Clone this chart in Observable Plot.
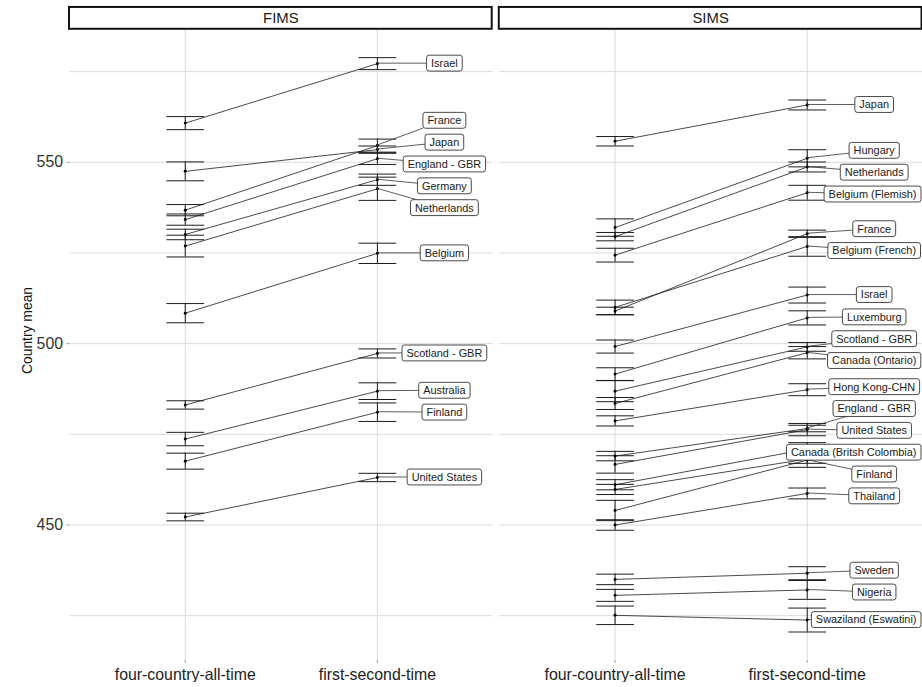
<!DOCTYPE html>
<html><head><meta charset="utf-8">
<script src="https://cdn.jsdelivr.net/npm/d3@7"></script>
<script src="https://cdn.jsdelivr.net/npm/@observablehq/plot@0.6"></script>
<style>
html,body{margin:0;padding:0;background:#fff;overflow:hidden;}
#chart{width:922px;height:687px;overflow:hidden;}
#chart svg{font-family:"Liberation Sans",Arial,sans-serif;}
</style></head><body><div id="chart"></div>
<script>
const studies = ["FIMS", "SIMS"];
const times = ["four-country-all-time", "first-second-time"];

const fimsCountries = ["Israel","Japan","France","England - GBR","Germany","Netherlands","Belgium","Scotland - GBR","Australia","Finland","United States"];
const fimsMeanA = [560.8, 547.5, 536.8, 534.2, 530.1, 526.9, 508.4, 483.1, 473.7, 467.6, 452.2];
const fimsSeA   = [1.8, 2.6, 1.55, 1.55, 1.45, 3.0, 2.65, 1.15, 1.85, 2.2, 1.05];
const fimsMeanB = [577.2, 553.5, 554.6, 551.0, 545.2, 542.7, 524.9, 497.3, 486.9, 481.1, 463.1];
const fimsSeB   = [1.65, 1.0, 1.8, 1.6, 1.55, 3.2, 2.8, 1.25, 2.3, 2.55, 1.15];

const simsCountries = ["Japan","Hungary","Netherlands","Belgium (Flemish)","Belgium (French)","France","Israel","Luxemburg","Scotland - GBR","Canada (Ontario)","Hong Kong-CHN","England - GBR","United States","Canada (Britsh Colombia)","New Zealand","Finland","Thailand","Sweden","Nigeria","Swaziland (Eswatini)"];
const simsMeanA = [555.8, 532.0, 529.5, 524.4, 510.0, 509.0, 499.2, 491.6, 486.9, 483.5, 478.7, 469.0, 466.7, 461.1, 459.8, 454.0, 450.0, 435.0, 430.6, 425.1];
const simsSeA   = [1.3, 2.4, 1.15, 1.9, 2.0, 1.05, 1.8, 1.75, 2.9, 1.65, 1.4, 1.3, 2.4, 1.4, 1.4, 2.8, 1.45, 1.45, 1.65, 2.55];
const simsMeanB = [565.8, 551.1, 548.7, 541.6, 526.8, 530.3, 513.4, 507.1, 499.1, 497.5, 487.3, 476.6, 476.3, 470.9, 468.2, 467.9, 458.7, 436.7, 432.1, 423.8];
const simsSeB   = [1.37, 2.36, 1.37, 2.05, 2.7, 1.0, 2.2, 1.95, 1.2, 1.7, 1.65, 0.9, 1.7, 1.8, 1.2, 2.0, 1.5, 1.8, 2.6, 3.3];
// ggrepel dropped this label in the original (too many overlaps)
const unlabelled = ["New Zealand"];

const yTicks = [450, 500, 550];
const yGrid = [425, 450, 475, 500, 525, 550, 575];

function build(study, countries, mA, sA, mB, sB) {
  const rows = [];
  countries.forEach((c, i) => {
    rows.push({study, country: c, time: times[0], mean: mA[i], lo: mA[i] - sA[i], hi: mA[i] + sA[i]});
    rows.push({study, country: c, time: times[1], mean: mB[i], lo: mB[i] - sB[i], hi: mB[i] + sB[i]});
  });
  return rows;
}
const rows = build("FIMS", fimsCountries, fimsMeanA, fimsSeA, fimsMeanB, fimsSeB)
  .concat(build("SIMS", simsCountries, simsMeanA, simsSeA, simsMeanB, simsSeB));
const labelRows = rows.filter(d => d.time === times[1] && !unlabelled.includes(d.country));

const capSymbol = {draw(ctx, size) { const r = Math.sqrt(size / Math.PI); ctx.moveTo(-r, 0); ctx.lineTo(r, 0); }};

const FONT = "11px 'Liberation Sans', Arial, sans-serif";
const measureCtx = document.createElement("canvas").getContext("2d");
measureCtx.font = FONT;

function repelLabels(index, scales, values, dim) {
  const X = values.x, Y = values.y, T = values.text;
  const H = 16, GAP = 22, DX = 68;
  const items = Array.from(index, i => ({px: X[i], py: Y[i], text: T[i], w: measureCtx.measureText(T[i]).width + 9}));
  items.sort((a, b) => a.py - b.py);
  let clusters = items.map(d => ({items: [d]}));
  const lay = c => { c.top = d3.mean(c.items, d => d.py) - (c.items.length - 1) * GAP / 2; };
  clusters.forEach(lay);
  let changed = true;
  while (changed) {
    changed = false;
    for (let k = 0; k < clusters.length - 1; k++) {
      const a = clusters[k], b = clusters[k + 1];
      if (b.top - (a.top + (a.items.length - 1) * GAP) < GAP) {
        a.items = a.items.concat(b.items); lay(a); clusters.splice(k + 1, 1); changed = true; break;
      }
    }
  }
  clusters.forEach(c => c.items.forEach((d, j) => { d.ly = c.top + j * GAP; }));
  const right = dim.width - dim.marginRight - 1;
  const g = d3.create("svg:g");
  for (const d of items) {
    let lx = d.px + DX;
    if (lx + d.w / 2 > right) lx = right - d.w / 2;
    d.lx = lx;
    const hw = d.w / 2, hh = H / 2;
    const vx = d.px - lx, vy = d.py - d.ly;
    const s = Math.max(Math.abs(vx) / hw, Math.abs(vy) / hh);
    if (s > 1) {
      g.append("line").attr("x1", d.px).attr("y1", d.py)
        .attr("x2", lx + vx / s).attr("y2", d.ly + vy / s)
        .attr("stroke", "#333").attr("stroke-width", 0.8);
    }
  }
  for (const d of items) {
    g.append("rect").attr("x", d.lx - d.w / 2).attr("y", d.ly - H / 2)
      .attr("width", d.w).attr("height", H).attr("rx", 2.5)
      .attr("fill", "#fff").attr("stroke", "#333").attr("stroke-width", 0.9);
    g.append("text").attr("x", d.lx).attr("y", d.ly).attr("dy", "0.36em")
      .attr("text-anchor", "middle").attr("fill", "#1a1a1a")
      .style("font", FONT).text(d.text);
  }
  return g.node();
}

function strip(index, scales, values, dim) {
  const g = d3.create("svg:g");
  const x0 = dim.marginLeft, x1 = dim.width - dim.marginRight;
  for (const i of index) {
    g.append("rect").attr("x", x0 - 0.5).attr("y", 7).attr("width", x1 - x0).attr("height", dim.marginTop - 8)
      .attr("fill", "#fff").attr("stroke", "#111").attr("stroke-width", 2);
    g.append("text").attr("x", (x0 + x1) / 2).attr("y", 7 + (dim.marginTop - 8) / 2).attr("dy", "0.36em")
      .attr("text-anchor", "middle").attr("fill", "#1a1a1a").style("font", "15px 'Liberation Sans', Arial, sans-serif")
      .text(values.text[i]);
  }
  return g.node();
}

const chart = Plot.plot({
  width: 929, height: 687,
  marginLeft: 70, marginRight: 0, marginTop: 30, marginBottom: 22,
  style: {fontFamily: "'Liberation Sans', Arial, sans-serif", background: "#fff"},
  fx: {domain: studies, paddingInner: 0.0165, paddingOuter: 0, round: false, axis: null},
  x: {type: "point", domain: times, padding: 0.6, round: false},
  y: {domain: [412.65, 586.4]},
  marks: [
    Plot.gridY(yGrid, {stroke: "#dadada", strokeOpacity: 1, strokeWidth: 1}),
    Plot.gridX(times, {stroke: "#dadada", strokeOpacity: 1, strokeWidth: 1}),
    Plot.axisY({ticks: yTicks, tickSize: 3, tickPadding: 4, fontSize: 16, fill: "#333", stroke: "#999", label: null}),
    Plot.axisX({tickSize: 3, tickPadding: 5, fontSize: 16, fill: "#222", stroke: "#999", label: null}),
    Plot.text(["Country mean"], {fx: () => "FIMS", text: d => d, frameAnchor: "left", textAnchor: "middle", rotate: -90, dx: -43, dy: -15, fontSize: 14, fill: "#111"}),
    Plot.text(studies, {fx: d => d, text: d => d, frameAnchor: "middle", render: strip}),
    Plot.ruleX(rows, {fx: "study", x: "time", y1: "lo", y2: "hi", stroke: "#1a1a1a", strokeWidth: 1}),
    Plot.dot(rows, {fx: "study", x: "time", y: "lo", symbol: capSymbol, r: 19, stroke: "#1a1a1a", strokeWidth: 1, fill: "none"}),
    Plot.dot(rows, {fx: "study", x: "time", y: "hi", symbol: capSymbol, r: 19, stroke: "#1a1a1a", strokeWidth: 1, fill: "none"}),
    Plot.line(rows, {fx: "study", x: "time", y: "mean", z: "country", stroke: "#1a1a1a", strokeWidth: 0.8}),
    Plot.dot(rows, {fx: "study", x: "time", y: "mean", r: 1.5, fill: "#000", stroke: "none"}),
    Plot.text(labelRows, {fx: "study", x: "time", y: "mean", text: "country", render: repelLabels})
  ]
});
document.getElementById("chart").appendChild(chart);
</script>
</body></html>
